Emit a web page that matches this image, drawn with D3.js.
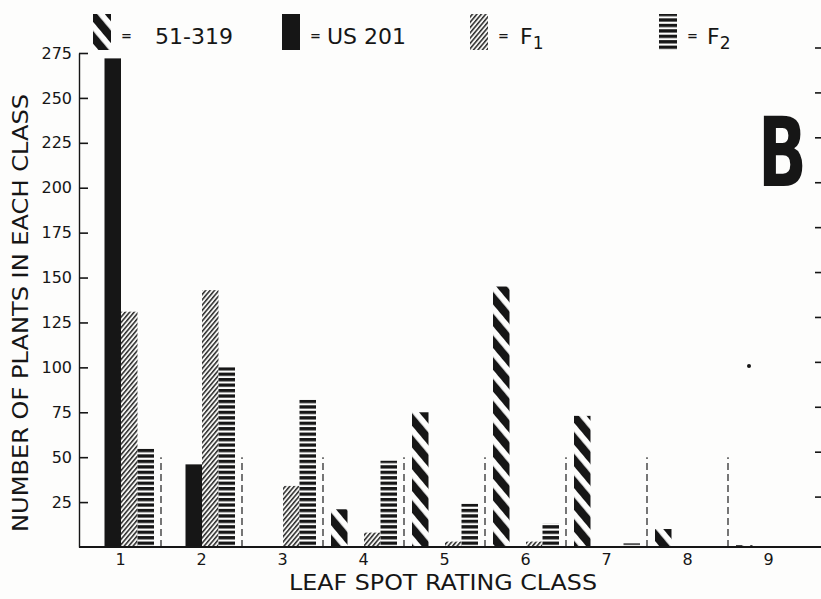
<!DOCTYPE html>
<html>
<head>
<meta charset="utf-8">
<script src="https://cdn.jsdelivr.net/npm/d3@7"></script>
<style>
  html, body { margin: 0; padding: 0; background: #fdfdfc; }
  svg { display: block; font-family: "DejaVu Sans", "Liberation Sans", sans-serif; }
</style>
</head>
<body>
<svg id="chart" width="821" height="599"></svg>
<script>
// rating classes on the x axis
const classes = ["1", "2", "3", "4", "5", "6", "7", "8", "9"];
// the four populations, in the order they stand inside each class
const seriesNames = ["51-319", "US 201", "F1", "F2"];
// number of plants per class
const p51319 = [0, 0, 0, 21, 75, 145, 73, 10, 1];
const us201  = [272, 46, 0, 0, 0, 0, 0, 0, 0];
const f1     = [131, 143, 34, 8, 3, 3, 0, 0, 0];
const f2     = [55, 100, 82, 48, 24, 13, 2, 0, 0];
const yTicks = [25, 50, 75, 100, 125, 150, 175, 200, 225, 250, 275];
const dividerHeight = 50; // dashed separators reach ~50 plants

const values = [p51319, us201, f1, f2];

const svg = d3.select("#chart");
const W = 821, H = 599;
const ink = "#161616";

// scales
const x = d3.scaleBand().domain(classes).range([80, 809]).padding(0);
const xs = d3.scaleBand().domain(seriesNames).range([8, 74]).padding(0);
const y = d3.scaleLinear().domain([0, 275]).range([547, 53]);

// ---- patterns
const defs = svg.append("defs");

// heavy diagonal stripes for 51-319
const pA = defs.append("pattern")
  .attr("id", "pat-51319")
  .attr("patternUnits", "userSpaceOnUse")
  .attr("width", 14).attr("height", 14)
  .attr("patternTransform", "rotate(-40)");
pA.append("rect").attr("width", 14).attr("height", 14).attr("fill", "#fdfdfc");
pA.append("rect").attr("x", 0).attr("width", 8.2).attr("height", 14).attr("fill", ink);

// fine hatching for F1
const pB = defs.append("pattern")
  .attr("id", "pat-f1")
  .attr("patternUnits", "userSpaceOnUse")
  .attr("width", 3.4).attr("height", 10)
  .attr("patternTransform", "rotate(40)");
pB.append("rect").attr("width", 3.4).attr("height", 10).attr("fill", "#f4f4f2");
pB.append("rect").attr("width", 1.5).attr("height", 10).attr("fill", "#2a2a2a");

// horizontal stripes for F2
const pC = defs.append("pattern")
  .attr("id", "pat-f2")
  .attr("patternUnits", "userSpaceOnUse")
  .attr("width", 20).attr("height", 5.45)
  .attr("y", 547);
pC.append("rect").attr("width", 20).attr("height", 5.45).attr("fill", "#fdfdfc");
pC.append("rect").attr("y", 0).attr("width", 20).attr("height", 3.3).attr("fill", ink);

const fills = {
  "51-319": "url(#pat-51319)",
  "US 201": ink,
  "F1": "url(#pat-f1)",
  "F2": "url(#pat-f2)"
};

// ---- bars
const rows = [];
classes.forEach((c, i) => {
  seriesNames.forEach((s, j) => {
    rows.push({ cls: c, series: s, value: values[j][i] });
  });
});

svg.append("g").attr("class", "bars")
  .selectAll("rect")
  .data(rows.filter(d => d.value > 0))
  .join("rect")
  .attr("x", d => x(d.cls) + xs(d.series))
  .attr("y", d => y(d.value))
  .attr("width", xs.bandwidth())
  .attr("height", d => y(0) - y(d.value))
  .attr("fill", d => fills[d.series]);

// dashed class separators
svg.append("g").attr("class", "dividers")
  .selectAll("line")
  .data(classes.slice(0, 8))
  .join("line")
  .attr("x1", d => x(d) + x.step())
  .attr("x2", d => x(d) + x.step())
  .attr("y1", y(0))
  .attr("y2", y(dividerHeight))
  .attr("stroke", "#2e2e2e")
  .attr("stroke-width", 1.3)
  .attr("stroke-dasharray", "7,4");

// ---- axes
const yAxis = d3.axisLeft(y)
  .tickValues(yTicks)
  .tickSize(-9)
  .tickSizeOuter(0)
  .tickPadding(7);

const gy = svg.append("g")
  .attr("transform", "translate(79,0)")
  .call(yAxis);
gy.attr("font-size", 16).attr("font-family", "DejaVu Sans, sans-serif");
gy.select(".domain").attr("stroke", ink).attr("stroke-width", 1.4);
gy.selectAll(".tick line").attr("stroke", ink).attr("stroke-width", 1.6);
gy.selectAll(".tick text").attr("fill", ink);

// baseline
svg.append("line")
  .attr("x1", 79).attr("x2", W)
  .attr("y1", y(0)).attr("y2", y(0))
  .attr("stroke", ink).attr("stroke-width", 2);

const xAxis = d3.axisBottom(x).tickSize(0).tickPadding(7);
const gx = svg.append("g")
  .attr("transform", `translate(0,${y(0)})`)
  .call(xAxis);
gx.attr("font-size", 16).attr("font-family", "DejaVu Sans, sans-serif");
gx.select(".domain").remove();
gx.selectAll(".tick text").attr("fill", ink);

// ticks of the neighbouring panel on the right edge
svg.append("g")
  .selectAll("line")
  .data(yTicks)
  .join("line")
  .attr("x1", 815).attr("x2", W)
  .attr("y1", d => y(d) - 5).attr("y2", d => y(d) - 5)
  .attr("stroke", ink).attr("stroke-width", 1.6);

// ---- titles
svg.append("text")
  .attr("x", 443).attr("y", 590)
  .attr("text-anchor", "middle")
  .attr("font-size", 22)
  .attr("fill", ink)
  .attr("textLength", 308)
  .attr("lengthAdjust", "spacingAndGlyphs")
  .text("LEAF SPOT RATING CLASS");

svg.append("text")
  .attr("transform", "translate(28,313) rotate(-90)")
  .attr("text-anchor", "middle")
  .attr("font-size", 22)
  .attr("fill", ink)
  .attr("textLength", 438)
  .attr("lengthAdjust", "spacingAndGlyphs")
  .text("NUMBER OF PLANTS IN EACH CLASS");

// panel letter, squeezed horizontally like the original lettering
svg.append("text")
  .attr("transform", "translate(758,186) scale(0.66,1)")
  .attr("font-size", 97)
  .attr("font-weight", "bold")
  .attr("fill", ink)
  .text("B");

// ---- legend
const legendX = [93, 282, 470, 659];
const labelGap = [62, 45, 50, 48];
const legend = svg.append("g").attr("class", "legend")
  .selectAll("g")
  .data(seriesNames)
  .join("g")
  .attr("transform", (d, i) => `translate(${legendX[i]},0)`);

legend.append("rect")
  .attr("x", 0).attr("y", 14)
  .attr("width", 18).attr("height", 36)
  .attr("fill", d => fills[d]);

legend.append("text")
  .attr("x", 28)
  .attr("y", 40)
  .attr("font-size", 13)
  .attr("font-weight", "bold")
  .attr("fill", ink)
  .text("=");

legend.each(function (d, i) {
  const t = d3.select(this).append("text")
    .attr("x", labelGap[i])
    .attr("y", 44)
    .attr("font-size", 22)
    .attr("fill", ink);
  if (d === "F1" || d === "F2") {
    t.append("tspan").text("F");
    t.append("tspan")
      .attr("dy", 5)
      .attr("font-size", 17)
      .text(d.slice(1));
  } else {
    t.text(d);
  }
});

// speck of dust on the print
svg.append("circle").attr("cx", 749).attr("cy", 366).attr("r", 2).attr("fill", ink);
</script>
</body>
</html>
